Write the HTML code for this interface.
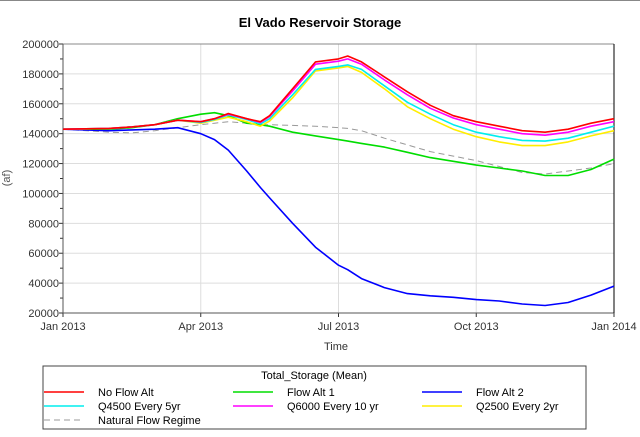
<!DOCTYPE html>
<html><head><meta charset="utf-8"><style>
body{margin:0;background:#fff;width:640px;height:432px;overflow:hidden;font-family:"Liberation Sans",Arial,sans-serif}
svg text{font-family:"Liberation Sans",Arial,sans-serif}
</style></head><body>
<svg id="chart" width="640" height="432" xmlns="http://www.w3.org/2000/svg">
<line x1="0" x2="640" y1="0.5" y2="0.5" stroke="#888" stroke-width="1"/>
<text x="320" y="27" text-anchor="middle" font-size="13" font-weight="bold" fill="#000">El Vado Reservoir Storage</text>
<text x="0" y="0" transform="translate(10,178) rotate(-90)" text-anchor="middle" font-size="11" fill="#555">(af)</text>
<text x="336" y="350" text-anchor="middle" font-size="11" fill="#333">Time</text>
<g id="grid"></g><g id="axes"></g><g id="series"></g>
<g>
<rect x="43" y="366" width="543" height="63" fill="#fff" stroke="#444" stroke-width="1"/>
<text x="314" y="379" text-anchor="middle" font-size="11" fill="#000">Total_Storage (Mean)</text>
<g id="legend-items"></g>
</g>
</svg>
<script>
const months=[0,1,1.5,2,2.5,3,3.3,3.6,4,4.3,4.5,5,5.5,6,6.2,6.5,7,7.5,8,8.5,9,9.5,10,10.5,11,11.5,12];
const seriesNames=["No Flow Alt","Flow Alt 1","Flow Alt 2","Q4500 Every 5yr","Q6000 Every 10 yr","Q2500 Every 2yr","Natural Flow Regime"];
const noFlowAlt=[143000,143500,144500,146000,149000,148000,150000,153500,150000,148000,152000,170000,188000,190000,192000,188000,178000,168000,159000,152000,148000,145000,142000,141000,143000,147000,150000];
const flowAlt1=[143000,143000,144000,146000,150000,153000,154000,152000,147000,146000,145000,141000,138500,136000,135000,133500,131000,127500,124000,121500,119000,117000,115000,112000,112000,116000,123000];
const flowAlt2=[143000,142000,142500,143000,144000,140000,136000,129000,115000,104000,97000,80000,64000,52000,49000,43000,37000,33000,31500,30500,29000,28000,26000,25000,27000,32000,38000];
const q4500=[143000,143500,144500,146000,149000,147500,149500,152500,149500,146500,150000,166000,183000,185000,186000,183000,172000,161000,153000,146000,141000,138000,135500,135000,137000,141000,145000];
const q6000=[143000,143500,144500,146000,149000,148000,150000,153000,150000,147500,151500,168500,186500,188500,190000,186500,176000,166000,157000,150500,146000,143000,140000,139000,141000,145000,148000];
const q2500=[143000,143500,144500,146000,149000,147000,149000,151000,148000,145000,148500,164000,182000,184000,185000,181000,170000,158000,150000,143000,138000,134500,132000,132000,134500,138500,142000];
const natural=[143000,141000,140500,142000,144000,146000,147000,148000,147000,146000,146000,145500,145000,144000,143500,142000,137000,132500,128000,125000,122000,118000,114000,113000,115000,117000,120000];
const yTicks=[20000,40000,60000,80000,100000,120000,140000,160000,180000,200000];
const xTickLabels=["Jan 2013","Apr 2013","Jul 2013","Oct 2013","Jan 2014"];
const xTickMonths=[0,3,6,9,12];

const X0=63,X1=614,Y0=313,Y1=44;
const xs=m=>X0+(X1-X0)*m/12;
const ys=v=>Y0-(Y0-Y1)*(v-20000)/180000;
const NS="http://www.w3.org/2000/svg";
function mk(tag,attrs,parent){const e=document.createElementNS(NS,tag);for(const k in attrs)e.setAttribute(k,attrs[k]);parent.appendChild(e);return e;}
const grid=document.getElementById('grid'),axes=document.getElementById('axes'),ser=document.getElementById('series');
yTicks.forEach(v=>{
 const l=mk('line',{x1:X0,x2:X1,y1:ys(v),y2:ys(v),stroke:'#ddd','stroke-width':1},grid);
 
 
 mk('line',{x1:X0-4,x2:X0,y1:ys(v),y2:ys(v),stroke:'#333'},axes);
 if(v<200000) mk('line',{x1:X0-3,x2:X0,y1:ys(v+10000),y2:ys(v+10000),stroke:'#333'},axes);
 const t=mk('text',{x:X0-4,y:ys(v)+4,'text-anchor':'end','font-size':11,fill:'#333'},axes);
 t.textContent=v;
 
 
});
xTickMonths.forEach((m,i)=>{
 if(i>0&&i<4){const g=mk('line',{x1:xs(m),x2:xs(m),y1:Y1,y2:Y0,stroke:'#ddd'},grid);
 
 }
 mk('line',{x1:xs(m),x2:xs(m),y1:Y0,y2:Y0+4,stroke:'#333'},axes);
 const t=mk('text',{x:xs(m),y:Y0+17,'text-anchor':'middle','font-size':11,fill:'#333'},axes);
 t.textContent=xTickLabels[i];
 
 
});
mk('line',{x1:X0,x2:X1,y1:Y1,y2:Y1,stroke:'#888'},axes);
mk('line',{x1:X0,x2:X0,y1:Y1,y2:Y0,stroke:'#555'},axes);
mk('line',{x1:X0,x2:X1,y1:Y0,y2:Y0,stroke:'#555'},axes);
mk('line',{x1:X1,x2:X1,y1:Y1,y2:Y0,stroke:'#000'},axes);

const allData=[natural,flowAlt2,flowAlt1,q2500,q4500,q6000,noFlowAlt];
const colors=["#999999","#0000ff","#00dd00","#ffee00","#00eeee","#ff00ff","#ff0000"];
const names=["natural-flow-line","flow-alt-2-line","flow-alt-1-line","q2500-line","q4500-line","q6000-line","no-flow-alt-line"];
allData.forEach((d,i)=>{
 const p=mk('polyline',{points:d.map((v,j)=>xs(months[j]).toFixed(1)+','+ys(v).toFixed(1)).join(' '),fill:'none',stroke:colors[i],'stroke-width':i==0?1:1.6,'stroke-dasharray':i==0?'6,4':'none','stroke-linejoin':'round'},ser);
 
 
});
const legColors=["#ff0000","#00dd00","#0000ff","#00eeee","#ff00ff","#ffee00","#999999"];
const li=document.getElementById('legend-items');
seriesNames.forEach((n,i)=>{
 const col=i%3,row=Math.floor(i/3);
 const lx=44+col*189,ty=396+row*14;
 const g=mk('g',{},li);
 
 
 mk('line',{x1:lx,x2:lx+40,y1:ty-4,y2:ty-4,stroke:legColors[i],'stroke-width':i==6?1:1.6,'stroke-dasharray':i==6?'6,4':'none'},g);
 const t=mk('text',{x:lx+54,y:ty,'font-size':11,fill:'#000'},g);
 t.textContent=n;
});
</script>
</body></html>
